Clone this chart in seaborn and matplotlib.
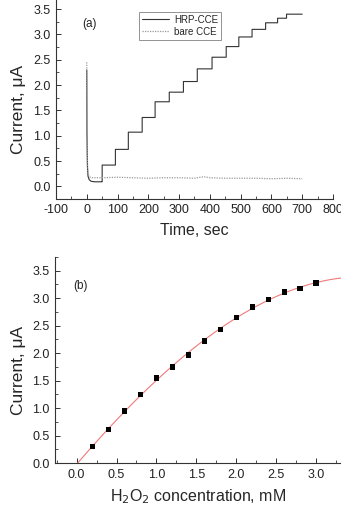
import numpy as np
import pandas as pd
import matplotlib
matplotlib.use('Agg')
import matplotlib.pyplot as plt
from matplotlib.ticker import MultipleLocator
import seaborn as sns

sns.set_style('white')
plt.rcParams['font.family'] = ['Liberation Sans', 'DejaVu Sans']
plt.rcParams['axes.unicode_minus'] = False

# (a) amperometric response
hrp_decay_t = [0, 0.5, 2, 4, 8, 14, 25, 49]
hrp_decay_i = [2.3, 1.1, 0.4, 0.2, 0.13, 0.1, 0.09, 0.09]
step_t = [50, 93, 135, 180, 222, 268, 314, 359, 407, 453, 494, 537, 581, 620, 649]
step_i = [0.42, 0.73, 1.07, 1.36, 1.67, 1.86, 2.07, 2.32, 2.55, 2.76, 2.95, 3.10, 3.23, 3.32, 3.40]
t_end = 700

bare_t = [0, 0.5, 2, 4, 8, 15, 50, 100, 150, 200, 250, 300, 350, 380, 400, 450, 500, 550, 600, 650, 700]
bare_i = [2.45, 1.3, 0.5, 0.25, 0.19, 0.17, 0.17, 0.18, 0.17, 0.16, 0.17, 0.17, 0.16, 0.19, 0.17,
          0.16, 0.16, 0.16, 0.15, 0.16, 0.15]

# (b) calibration
conc = [0.2, 0.4, 0.6, 0.8, 1.0, 1.2, 1.4, 1.6, 1.8, 2.0, 2.2, 2.4, 2.6, 2.8, 3.0]
current = [0.30, 0.61, 0.95, 1.25, 1.55, 1.75, 1.97, 2.22, 2.43, 2.65, 2.84, 2.98, 3.11, 3.18, 3.28]

# staircase for HRP-CCE
ht = list(hrp_decay_t)
hi = list(hrp_decay_i)
prev = hrp_decay_i[-1]
for t, i in zip(step_t, step_i):
    ht += [t, t]
    hi += [prev, i]
    prev = i
ht.append(t_end)
hi.append(prev)
hrp = pd.DataFrame({'t': ht, 'i': hi})
bare = pd.DataFrame({'t': bare_t, 'i': bare_i})
calib = pd.DataFrame({'c': conc, 'i': current})

fig = plt.figure(figsize=(3.41, 5.05), dpi=100)
ax1 = fig.add_axes([56 / 341, 1 - 198.5 / 505, 277 / 341, 198.5 / 505])
ax2 = fig.add_axes([55 / 341, 1 - 463 / 505, 286 / 341, 206 / 505])

sns.lineplot(data=hrp, x='t', y='i', sort=False, estimator=None, ax=ax1,
             color='#333333', lw=0.8, label='HRP-CCE')
sns.lineplot(data=bare, x='t', y='i', sort=False, estimator=None, ax=ax1,
             color='#999999', lw=0.9, ls=(0, (1, 1)), label='bare CCE')
ax1.set_xlim(-100, 800)
ax1.set_ylim(-0.24, 3.68)
ax1.xaxis.set_major_locator(MultipleLocator(100))
ax1.xaxis.set_minor_locator(MultipleLocator(50))
ax1.set_xlabel('Time, sec', fontsize=11.5, labelpad=5)
ax1.text(0.12, 0.88, '(a)', transform=ax1.transAxes, fontsize=8.5, ha='center', va='center',
         color='#222222')
leg = ax1.legend(loc='upper left', bbox_to_anchor=(0.30, 0.94), borderaxespad=0,
                 fontsize=7, handlelength=2.8, handletextpad=0.5, borderpad=0.3,
                 labelspacing=0.2, fancybox=False, frameon=True)
leg.get_frame().set_edgecolor('#777777')
leg.get_frame().set_linewidth(0.7)

# polynomial fit through the calibration points, drawn across the whole axis
ax2.set_xlim(-0.27, 3.31)
sns.regplot(data=calib, x='c', y='i', order=3, ci=None, truncate=False, ax=ax2,
            marker='s', color='#f07a7a',
            scatter_kws=dict(s=16, color='black', edgecolors='none', zorder=3, alpha=1),
            line_kws=dict(color='#f07a7a', lw=0.8, zorder=2))
ax2.set_xlim(-0.27, 3.31)
ax2.set_ylim(0, 3.75)
ax2.xaxis.set_major_locator(MultipleLocator(0.5))
ax2.xaxis.set_minor_locator(MultipleLocator(0.25))
ax2.xaxis.set_major_formatter(plt.FormatStrFormatter('%.1f'))
ax2.set_xlabel('H$_2$O$_2$ concentration, mM', fontsize=11.5, labelpad=5)
ax2.text(0.09, 0.86, '(b)', transform=ax2.transAxes, fontsize=8.5, ha='center', va='center',
         color='#222222')

for ax, lx in ((ax1, -0.108), (ax2, -0.101)):
    ax.yaxis.set_major_locator(MultipleLocator(0.5))
    ax.yaxis.set_minor_locator(MultipleLocator(0.25))
    ax.yaxis.set_major_formatter(plt.FormatStrFormatter('%.1f'))
    ax.set_ylabel('Current, μA', fontsize=12.5)
    ax.yaxis.set_label_coords(lx, 0.45)
    ax.spines['top'].set_visible(False)
    ax.spines['right'].set_visible(False)
    for s in ('left', 'bottom'):
        ax.spines[s].set_color('#333333')
        ax.spines[s].set_linewidth(0.8)
    ax.tick_params(which='both', direction='in', color='#333333', labelsize=9,
                   labelcolor='#222222', left=True, bottom=True)
    ax.tick_params(which='major', length=3.5, width=0.7, pad=4)
    ax.tick_params(which='minor', length=2, width=0.6)
    ax.patch.set_alpha(0)

fig.savefig('out.png', dpi=100)
